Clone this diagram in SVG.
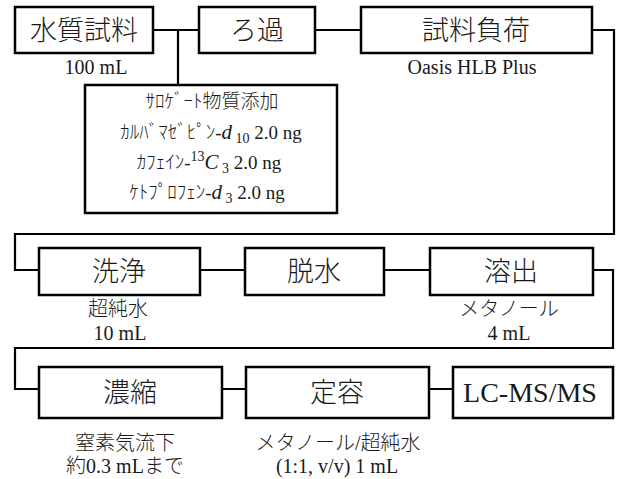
<svg xmlns="http://www.w3.org/2000/svg" width="621" height="479" viewBox="0 0 621 479">
<style>
.box{fill:#fff;stroke:#000;stroke-width:2.5}
.ln{fill:none;stroke:#000;stroke-width:2.2}
text{font-family:"Liberation Serif","Noto Sans CJK JP",serif;fill:#1a1a1a;text-anchor:middle;font-weight:300}
.big{font-size:27px}
.lab{font-size:20px}
.sm{font-size:19px}
.it{font-style:italic}
</style>
<rect width="621" height="479" fill="#fff"/>
<g id="connectors">
<path class="ln" d="M153,30 H199 M178,30 V85"/>
<path class="ln" d="M315,30 H361"/>
<path class="ln" d="M592,30 H614 V234 H15 V270 H39"/>
<path class="ln" d="M200,270 H245 M384,270 H430"/>
<path class="ln" d="M593,270 H613 V348 H15 V389 H39"/>
<path class="ln" d="M222,389 H246 M429,389 H453"/>
</g>
<g id="n1">
<rect class="box" x="15" y="7" width="138" height="46"/>
<text class="big" x="84" y="40">水質試料</text>
<text class="lab" x="96" y="74">100 mL</text>
</g>
<g id="n2">
<rect class="box" x="199" y="7" width="116" height="46"/>
<text class="big" x="257" y="40">ろ過</text>
</g>
<g id="n3">
<rect class="box" x="361" y="7" width="231" height="46"/>
<text class="big" x="476" y="40">試料負荷</text>
<text class="lab" x="472" y="74">Oasis HLB Plus</text>
</g>
<g id="n_surrogate">
<rect class="box" x="85" y="85" width="252" height="128"/>
<text class="sm" x="212" y="108" font-size="21">ｻﾛｹﾞｰﾄ物質添加</text>
<text class="sm" x="211" y="139">ｶﾙﾊﾞﾏｾﾞﾋﾟﾝ-<tspan class="it" font-size="21">d</tspan><tspan font-size="14" dy="4"> 10</tspan><tspan dy="-4"> 2.0 ng</tspan></text>
<text class="sm" x="209" y="169">ｶﾌｪｲﾝ-<tspan font-size="14" dy="-8">13</tspan><tspan class="it" font-size="21" dy="8">C</tspan><tspan font-size="14" dy="4"> 3</tspan><tspan dy="-4"> 2.0 ng</tspan></text>
<text class="sm" x="207" y="199">ｹﾄﾌﾟﾛﾌｪﾝ-<tspan class="it" font-size="21">d</tspan><tspan font-size="14" dy="4"> 3</tspan><tspan dy="-4"> 2.0 ng</tspan></text>
</g>
<g id="n4">
<rect class="box" x="39" y="248" width="161" height="47"/>
<text class="big" x="119" y="281">洗浄</text>
<text class="lab" x="118" y="316">超純水</text>
<text class="lab" x="120" y="340">10 mL</text>
</g>
<g id="n5">
<rect class="box" x="245" y="248" width="139" height="47"/>
<text class="big" x="314" y="281">脱水</text>
</g>
<g id="n6">
<rect class="box" x="430" y="248" width="163" height="47"/>
<text class="big" x="511" y="281">溶出</text>
<text class="lab" x="509" y="316" font-size="17">メタノール</text>
<text class="lab" x="509" y="340">4 mL</text>
</g>
<g id="n7">
<rect class="box" x="39" y="367" width="183" height="51"/>
<text class="big" x="130" y="402">濃縮</text>
<text class="lab" x="125" y="450">窒素気流下</text>
<text class="lab" x="125" y="473">約0.3 mLまで</text>
</g>
<g id="n8">
<rect class="box" x="246" y="367" width="183" height="51"/>
<text class="big" x="337" y="402">定容</text>
<text class="lab" x="338" y="450">メタノール/超純水</text>
<text class="lab" x="337" y="473">(1:1, v/v) 1 mL</text>
</g>
<g id="n9">
<rect class="box" x="453" y="367" width="160" height="51"/>
<text x="530" y="402" font-size="28">LC-MS/MS</text>
</g>
</svg>
